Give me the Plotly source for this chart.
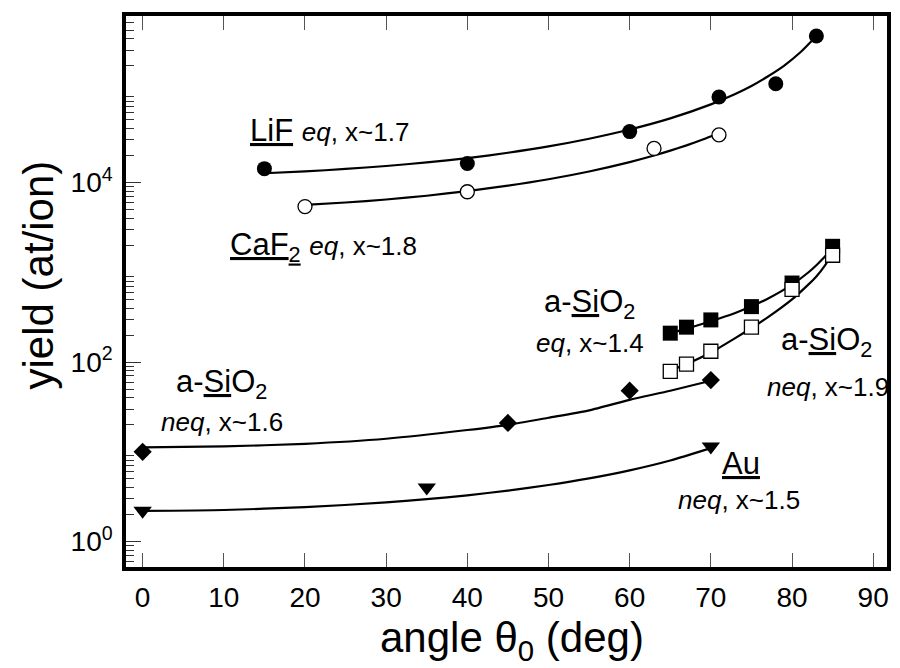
import plotly.graph_objects as go

# ---------------- data ----------------
# LiF, eq (filled circles)
lif_x = [15, 40, 60, 71, 78, 83]
lif_y = [14300, 16300, 37000, 90000, 126000, 430000]
lif_fit_x = [15, 20, 25, 30, 35, 40, 45, 50, 55, 60, 65, 70, 73, 75, 77, 79, 81, 83]
lif_fit_y = [12700, 13300, 14200, 15300, 16800, 18700, 21500, 25300, 30800, 39000,
             51900, 74400, 97000, 119000, 152000, 200000, 281000, 430000]

# CaF2, eq (open circles)
caf_x = [20, 40, 63, 71]
caf_y = [5400, 7900, 24000, 34000]
caf_fit_x = [20, 25, 30, 35, 40, 45, 50, 55, 60, 63, 65, 67, 69, 71]
caf_fit_y = [5650, 6000, 6480, 7130, 8050, 9250, 10900, 13300, 16900, 20000,
             22700, 26000, 30200, 35500]

# a-SiO2, eq (filled squares)
sio2eq_x = [65, 67, 70, 75, 80, 85]
sio2eq_y = [210, 245, 295, 415, 760, 1950]
sio2eq_fit_x = [65, 67, 70, 73, 75, 77, 80, 82, 83, 84, 85]
sio2eq_fit_y = [210, 236, 285, 352, 418, 509, 731, 996, 1200, 1480, 1850]

# a-SiO2, neq x~1.9 (open squares)
sio2neq_x = [65, 67, 70, 75, 80, 85]
sio2neq_y = [79, 95, 132, 245, 645, 1550]
sio2neq_fit_x = [65, 67, 70, 73, 75, 77, 80, 82, 83, 84, 85]
sio2neq_fit_y = [80, 95, 128, 185, 240, 315, 500, 730, 900, 1170, 1650]

# a-SiO2, neq x~1.6 (diamonds)
dia_x = [0, 45, 60, 70]
dia_y = [10, 21, 48, 63]
dia_fit_x = [0, 10, 20, 30, 40, 45, 50, 55, 60, 65, 70]
dia_fit_y = [11.2, 11.5, 12.3, 14.0, 17.5, 20.0, 24.0, 29.0, 38.0, 48.0, 62.0]

# Au, neq (down triangles)
au_x = [0, 35, 70]
au_y = [2.2, 4.0, 11.5]
au_fit_x = [0, 10, 20, 30, 35, 40, 45, 50, 55, 60, 65, 70]
au_fit_y = [2.2, 2.25, 2.42, 2.73, 2.97, 3.28, 3.70, 4.27, 5.06, 6.22, 8.01, 11.0]

# axis ticks
x_ticks = [0, 10, 20, 30, 40, 50, 60, 70, 80, 90]
y_labelled = [1, 100, 10000]
y_labelled_text = ["10<sup>0</sup>", "10<sup>2</sup>", "10<sup>4</sup>"]
y_unlabelled = [10, 1000, 100000]
y_minor_decades = [0.1, 1, 10, 100, 1000, 10000, 100000]
y_minor_digits = [2, 3, 4, 5, 6, 7, 8, 9]
y_minor = [d * m for d in y_minor_decades for m in y_minor_digits]

# ---------------- figure ----------------
FONT = "Liberation Sans, Arial, Helvetica, sans-serif"
W, H = 900, 668
ML, MR, MT, MB = 126, 9, 16, 101
PW, PH = W - ML - MR, H - MT - MB
Y_RANGE = [-0.283, 5.856]


def px(xp):
    return (xp - ML) / PW


def py(yp):
    return (H - MB - yp) / PH


fig = go.Figure()

line_style = dict(color="black", width=2.2, shape="spline", smoothing=0.6)
for fx, fy in [(lif_fit_x, lif_fit_y), (caf_fit_x, caf_fit_y),
               (sio2eq_fit_x, sio2eq_fit_y), (sio2neq_fit_x, sio2neq_fit_y),
               (dia_fit_x, dia_fit_y), (au_fit_x, au_fit_y)]:
    fig.add_trace(go.Scatter(x=fx, y=fy, mode="lines", line=line_style,
                             hoverinfo="skip", showlegend=False))

fig.add_trace(go.Scatter(x=lif_x, y=lif_y, mode="markers", name="LiF eq",
                         marker=dict(symbol="circle", size=15, color="black")))
fig.add_trace(go.Scatter(x=caf_x, y=caf_y, mode="markers", name="CaF2 eq",
                         marker=dict(symbol="circle", size=14, color="white",
                                     line=dict(color="black", width=1.3))))
fig.add_trace(go.Scatter(x=sio2eq_x, y=sio2eq_y, mode="markers", name="a-SiO2 eq",
                         marker=dict(symbol="square", size=15, color="black")))
fig.add_trace(go.Scatter(x=sio2neq_x, y=sio2neq_y, mode="markers", name="a-SiO2 neq 1.9",
                         marker=dict(symbol="square", size=14, color="white",
                                     line=dict(color="black", width=1.3))))
fig.add_trace(go.Scatter(x=dia_x, y=dia_y, mode="markers", name="a-SiO2 neq 1.6",
                         marker=dict(symbol="diamond", size=14, color="black")))
fig.add_trace(go.Scatter(x=au_x, y=au_y, mode="markers", name="Au neq",
                         marker=dict(symbol="triangle-down", size=16, color="black")))

BIG, SMALL = 31, 26


def small(s):
    return f'<span style="font-size:{SMALL}px">{s}</span>'


annots = [
    (f'<u>LiF</u> {small("<i>eq</i>, x~1.7")}', 250, 130, "left"),
    (f'<u>CaF<sub>2</sub></u> {small("<i>eq</i>, x~1.8")}', 230, 247, "left"),
    ('a-<u>Si</u>O<sub>2</sub>', 592, 304, "center"),
    (small('<i>eq</i>, x~1.4'), 592, 343, "center"),
    ('a-<u>Si</u>O<sub>2</sub>', 830, 342, "center"),
    (small('<i>neq</i>, x~1.9'), 832, 387, "center"),
    ('a-<u>Si</u>O<sub>2</sub>', 222, 384, "center"),
    (small('<i>neq</i>, x~1.6'), 223, 422, "center"),
    ('<u>Au</u>', 744, 463, "center"),
    (small('<i>neq</i>, x~1.5'), 742, 500, "center"),
]
for text, xp, yp, anchor in annots:
    fig.add_annotation(text=text, x=px(xp), y=py(yp), xref="paper", yref="paper",
                       xanchor=anchor, yanchor="middle", showarrow=False, borderpad=0,
                       font=dict(family=FONT, size=BIG, color="black"))

# axis titles
fig.add_annotation(text="yield (at/ion)", x=px(38), y=py(275), xref="paper", yref="paper",
                   xanchor="center", yanchor="middle", textangle=-90, showarrow=False,
                   borderpad=0, font=dict(family=FONT, size=42, color="black"))
fig.add_annotation(text="angle θ<sub>0</sub> (deg)", x=px(514), y=py(640), xref="paper",
                   yref="paper", xanchor="center", yanchor="middle", showarrow=False,
                   borderpad=0, font=dict(family=FONT, size=42, color="black"))

fig.update_layout(
    width=W, height=H,
    margin=dict(l=ML, r=MR, t=MT, b=MB),
    paper_bgcolor="white", plot_bgcolor="white",
    showlegend=False,
    font=dict(family=FONT, color="black"),
    xaxis=dict(
        range=[-2.05, 91.7], tickvals=x_ticks,
        ticks="inside", ticklen=14, tickwidth=1.3, tickcolor="#555",
        showline=True, linewidth=3.5, linecolor="black", mirror="allticks",
        showgrid=False, zeroline=False,
        tickfont=dict(family=FONT, size=28, color="black"),
        ticklabelstandoff=3,
    ),
    yaxis=dict(
        type="log", range=Y_RANGE,
        tickmode="array", tickvals=y_labelled, ticktext=y_labelled_text,
        ticks="inside", ticklen=15, tickwidth=1.3, tickcolor="#333",
        minor=dict(tickmode="array", tickvals=y_minor, ticks="inside", ticklen=8,
                   tickwidth=1.2, tickcolor="#333", showgrid=False),
        showline=True, linewidth=3.5, linecolor="black", mirror=True,
        showgrid=False, zeroline=False,
        tickfont=dict(family=FONT, size=28, color="black"),
        ticklabelstandoff=4,
    ),
    yaxis2=dict(
        type="log", range=Y_RANGE, overlaying="y", side="left",
        tickmode="array", tickvals=y_unlabelled, showticklabels=False,
        ticks="inside", ticklen=15, tickwidth=1.3, tickcolor="#333",
        showline=False, showgrid=False, zeroline=False,
    ),
)

fig.write_html("out.html", config={"displayModeBar": False},
               post_script="document.body.style.margin='0';")
